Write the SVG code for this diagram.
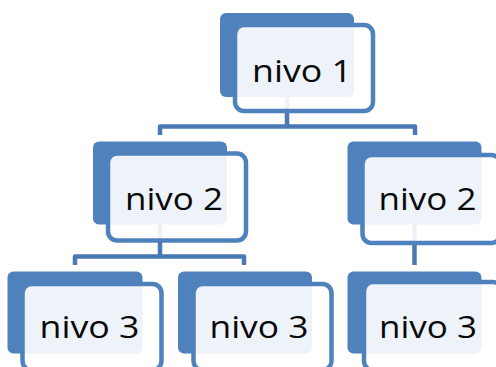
<svg xmlns="http://www.w3.org/2000/svg" width="496" height="367" viewBox="0 0 496 367">
  <style>
    .back { fill: #4F81BD; }
    .front { fill: #FFFFFF; fill-opacity: 0.9; stroke: #4F81BD; stroke-width: 4.5; }
    .conn { fill: none; stroke: #4A79B6; stroke-width: 4.5; stroke-linejoin: round; stroke-linecap: butt; }
    .label { font-family: "Open Sans", "Liberation Sans", sans-serif; font-size: 31.5px; fill: #0A0A0A; }
  </style>
  <rect width="496" height="367" fill="#FFFFFF"/>
  <g id="connectors">
    <path class="conn" d="M287,90 V126.5 M160,135 V126.5 H415 V135"/>
    <path class="conn" d="M160,220 V256.5 M75,265 V256.5 H244 V265"/>
    <path class="conn" d="M414.5,220 V265"/>
  </g>
  <g id="node-nivo1">
    <rect class="back" x="220" y="13" width="134" height="84" rx="6"/>
    <rect class="front" x="235" y="25" width="138" height="86" rx="9"/>
    <text class="label" x="252" y="81.5" textLength="100" lengthAdjust="spacingAndGlyphs">nivo 1</text>
  </g>
  <g id="node-nivo2-left">
    <rect class="back" x="93" y="141.5" width="134" height="83" rx="6"/>
    <rect class="front" x="108" y="153.5" width="138" height="87" rx="9"/>
    <text class="label" x="125" y="210" textLength="98" lengthAdjust="spacingAndGlyphs">nivo 2</text>
  </g>
  <g id="node-nivo2-right">
    <rect class="back" x="347.5" y="141.5" width="134" height="83" rx="6"/>
    <rect class="front" x="362.5" y="155" width="138" height="88" rx="9"/>
    <text class="label" x="378.5" y="210" textLength="98" lengthAdjust="spacingAndGlyphs">nivo 2</text>
  </g>
  <g id="node-nivo3-a">
    <rect class="back" x="7.5" y="271.5" width="135" height="82" rx="6"/>
    <rect class="front" x="22.5" y="284" width="139" height="86" rx="9"/>
    <text class="label" x="39.5" y="338" textLength="100" lengthAdjust="spacingAndGlyphs">nivo 3</text>
  </g>
  <g id="node-nivo3-b">
    <rect class="back" x="178" y="271.5" width="134" height="82" rx="6"/>
    <rect class="front" x="193.5" y="284" width="138" height="86" rx="9"/>
    <text class="label" x="209.5" y="338" textLength="99" lengthAdjust="spacingAndGlyphs">nivo 3</text>
  </g>
  <g id="node-nivo3-c">
    <rect class="back" x="347.5" y="271.5" width="134" height="82" rx="6"/>
    <rect class="front" x="364" y="282" width="138" height="88" rx="9"/>
    <text class="label" x="379" y="338" textLength="98" lengthAdjust="spacingAndGlyphs">nivo 3</text>
  </g>
</svg>
